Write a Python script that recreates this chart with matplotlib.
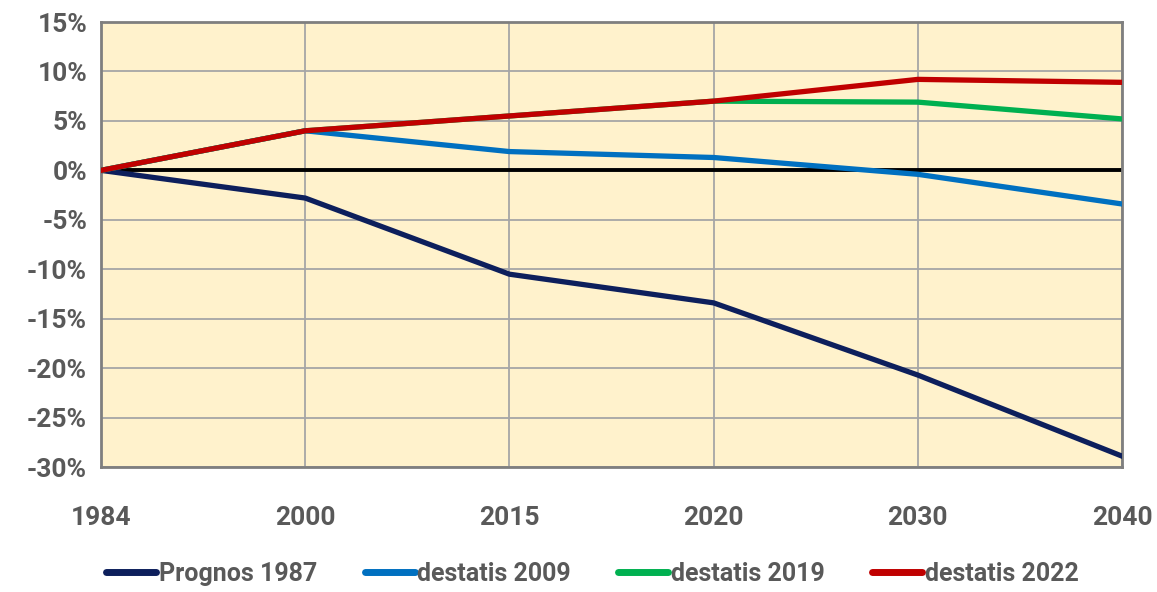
import matplotlib
matplotlib.use('Agg')
import matplotlib.pyplot as plt
from matplotlib.ticker import FuncFormatter

plt.rcParams['font.family'] = ['Roboto', 'DejaVu Sans']

years = ['1984', '2000', '2015', '2020', '2030', '2040']
prognos_1987 = [0, -2.8, -10.5, -13.4, -20.7, -28.9]
destatis_2009 = [0, 4.0, 1.9, 1.3, -0.4, -3.4]
destatis_2019 = [0, 4.0, 5.5, 7.0, 6.9, 5.2]
destatis_2022 = [0, 4.0, 5.5, 7.0, 9.2, 8.9]

fig = plt.figure(figsize=(11.57, 5.92), dpi=100)
ax = fig.add_axes([0.0873, 0.2111, 0.8825, 0.7517])
ax.set_facecolor('#fff2cc')

x = list(range(len(years)))
lw = 3.8
ax.axhline(0, color='black', lw=2.8, zorder=2)
ax.plot(x, prognos_1987, color='#0d1f5c', lw=lw, label='Prognos 1987', zorder=3)
ax.plot(x, destatis_2009, color='#0070c0', lw=lw, label='destatis 2009', zorder=3)
ax.plot(x, destatis_2019, color='#00b050', lw=lw, label='destatis 2019', zorder=4)
ax.plot(x, destatis_2022, color='#c00000', lw=lw, label='destatis 2022', zorder=5)

ax.set_xlim(0, len(years) - 1)
ax.set_ylim(-30, 15)
ax.set_xticks(x)
ax.set_xticklabels(years)
ax.set_yticks(range(-30, 16, 5))
ax.yaxis.set_major_formatter(FuncFormatter(lambda v, p: '%d%%' % v))
ax.grid(True, color='#a6a6a6', lw=1.3, zorder=1)
ax.set_axisbelow(True)
for s in ax.spines.values():
    s.set_color('#7f7f7f')
    s.set_linewidth(2)
ax.tick_params(length=0, labelsize=19, colors='#595959', pad=10)
for t in ax.get_xticklabels() + ax.get_yticklabels():
    t.set_fontweight('bold')
ax.tick_params(axis='x', pad=28)

leg = fig.legend(loc='center', bbox_to_anchor=(0.512, 0.03), ncol=4, frameon=False,
                 handlelength=2.0, handletextpad=0.1, columnspacing=1.9,
                 prop={'size': 18, 'weight': 'bold'})
for t in leg.get_texts():
    t.set_color('#595959')
for h in leg.get_lines():
    h.set_linewidth(5)
    h.set_solid_capstyle('round')

fig.savefig('out.png', dpi=100)
